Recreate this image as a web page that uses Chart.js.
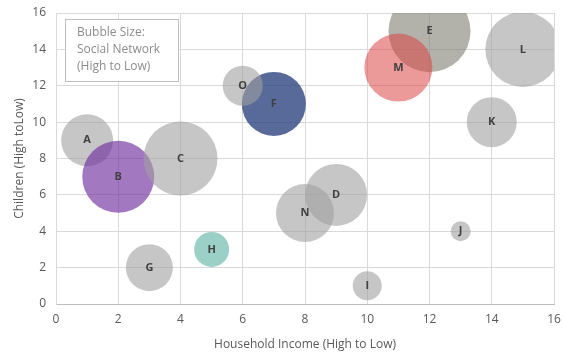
<!DOCTYPE html>
<html>
<head>
<meta charset="utf-8">
<script src="https://cdn.jsdelivr.net/npm/chart.js@4/dist/chart.umd.min.js"></script>
<style>
  html, body { margin: 0; padding: 0; background: #fff; }
  #wrap { width: 563px; height: 356px; position: relative; }
</style>
</head>
<body>
<div id="wrap"><canvas id="bubbleChart" width="563" height="356"></canvas></div>
<script>
// chart values
const labels = ['A', 'B', 'C', 'D', 'E', 'F', 'G', 'H', 'I', 'J', 'K', 'L', 'M', 'N', 'O'];
const income = [1, 2, 4, 9, 12, 7, 3, 5, 10, 13, 14, 15, 11, 8, 6];
const children = [9, 7, 8, 6, 15, 11, 2, 3, 1, 4, 10, 14, 13, 5, 12];
const socialNetwork = [26, 36, 37, 31, 41, 32, 23.5, 17.5, 14.5, 10, 25, 37.5, 34, 29, 20];
const xTicks = [0, 2, 4, 6, 8, 10, 12, 14, 16];
const yTicks = [0, 2, 4, 6, 8, 10, 12, 14, 16];

const grey = 'rgba(160,160,160,0.6)';
const colours = {
  B: 'rgba(112,48,160,0.65)',
  E: 'rgba(128,126,114,0.6)',
  F: 'rgba(31,56,120,0.75)',
  H: 'rgba(72,170,153,0.55)',
  M: 'rgba(220,70,70,0.55)'
};

// letters inside the bubbles + the little note box
const bubbleText = {
  id: 'bubbleText',
  afterDatasetsDraw(chart) {
    const ctx = chart.ctx;
    const meta = chart.getDatasetMeta(0);
    ctx.save();
    ctx.fillStyle = '#404040';
    ctx.font = 'bold 11px "Open Sans", sans-serif';
    ctx.textAlign = 'center';
    ctx.textBaseline = 'middle';
    meta.data.forEach((pt, i) => {
      ctx.fillText(labels[i], pt.x, pt.y);
    });

    // note box
    ctx.strokeStyle = '#bfbfbf';
    ctx.lineWidth = 1;
    ctx.fillStyle = '#fff';
    ctx.fillRect(65.5, 19.5, 113, 62);
    ctx.strokeRect(65.5, 19.5, 113, 62);
    ctx.fillStyle = '#8c8c8c';
    ctx.font = '12px "Open Sans", sans-serif';
    ctx.textAlign = 'left';
    ctx.fillText('Bubble Size:', 77, 33);
    ctx.fillText('Social Network', 77, 50);
    ctx.fillText('(High to Low)', 77, 67);
    ctx.restore();
  }
};

const ctx = document.getElementById('bubbleChart').getContext('2d');
new Chart(ctx, {
  type: 'bubble',
  data: {
    datasets: [
      {
        label: 'Social Network',
        data: labels.map((l, i) => ({ x: income[i], y: children[i], r: socialNetwork[i] })),
        backgroundColor: labels.map((l) => colours[l] || grey),
        borderWidth: 0,
        hoverBorderWidth: 0,
        clip: 0,
      },
    ],
  },
  options: {
    responsive: false,
    animation: false,
    layout: { autoPadding: false, padding: { top: 13, right: 9, left: 0, bottom: 0 } },
    plugins: {
      legend: { display: false },
      tooltip: { enabled: false },
    },
    scales: {
      x: {
        type: 'linear',
        min: 0,
        max: 16,
        afterBuildTicks: (axis) => { axis.ticks = xTicks.map((v) => ({ value: v })); },
        grid: { color: '#d9d9d9', lineWidth: 1, drawTicks: false },
        border: { color: '#bfbfbf', width: 1 },
        ticks: { color: '#595959', font: { size: 12, family: '"Open Sans", sans-serif' }, padding: 8 },
        title: {
          display: true,
          text: 'Household Income (High to Low)',
          color: '#595959',
          font: { size: 12, family: '"Open Sans", sans-serif' },
          padding: { top: 4 },
        },
        afterFit: (axis) => {
          axis.height = 52;
          axis.paddingLeft = 0;
          axis.paddingRight = 0;
        },
      },
      y: {
        type: 'linear',
        min: 0,
        max: 16,
        afterBuildTicks: (axis) => { axis.ticks = yTicks.map((v) => ({ value: v })); },
        grid: { color: '#d9d9d9', lineWidth: 1, drawTicks: false },
        border: { color: '#d9d9d9', width: 1 },
        ticks: { color: '#595959', font: { size: 12, family: '"Open Sans", sans-serif' }, padding: 10 },
        title: {
          display: true,
          text: 'Children (High toLow)',
          color: '#595959',
          font: { size: 12, family: '"Open Sans", sans-serif' },
          padding: { top: 12, bottom: 0 },
        },
        afterFit: (axis) => {
          axis.width = 56;
          axis.paddingTop = 0;
          axis.paddingBottom = 0;
        },
      },
    },
  },
  plugins: [bubbleText],
});
</script>
</body>
</html>
